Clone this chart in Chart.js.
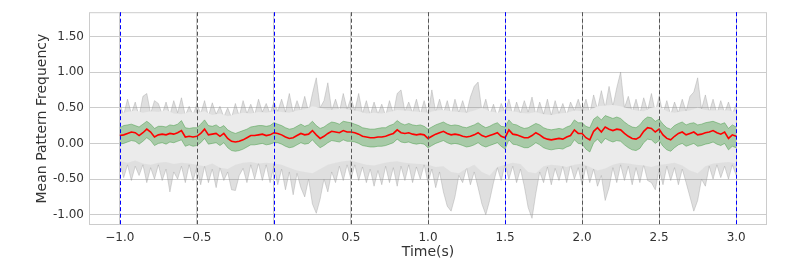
<!DOCTYPE html>
<html>
<head>
<meta charset="utf-8">
<script src="https://cdn.jsdelivr.net/npm/chart.js@4"></script>
<style>
  html, body { margin: 0; padding: 0; background: #fff; }
  #wrap { width: 787px; height: 271px; }
</style>
</head>
<body>
<div id="wrap"><canvas id="patternChart" width="787" height="271"></canvas></div>
<script>
// sampling grids (s)
const tStart = -1.0;
const tStep = 0.025;
const innerStep = 0.05;

// mean pattern frequency (red)
const meanFreq = [
  0.11,0.12,0.14,0.16,0.15,0.11,0.15,0.20,0.16,0.09,
  0.12,0.13,0.12,0.14,0.13,0.15,0.18,0.09,0.10,0.09,
  0.10,0.14,0.20,0.12,0.13,0.14,0.10,0.14,0.07,0.03,
  0.02,0.03,0.05,0.08,0.11,0.11,0.12,0.13,0.11,0.12,
  0.15,0.14,0.12,0.09,0.07,0.08,0.11,0.14,0.12,0.13,
  0.18,0.12,0.07,0.10,0.14,0.17,0.16,0.15,0.18,0.16,
  0.16,0.15,0.13,0.10,0.09,0.08,0.08,0.09,0.09,0.10,
  0.12,0.14,0.19,0.15,0.14,0.15,0.13,0.12,0.13,0.12,
  0.07,0.10,0.13,0.15,0.17,0.14,0.12,0.13,0.12,0.10,
  0.09,0.10,0.12,0.15,0.11,0.09,0.11,0.13,0.15,0.10,
  0.08,0.19,0.13,0.12,0.10,0.08,0.08,0.11,0.15,0.12,
  0.08,0.06,0.05,0.06,0.07,0.06,0.09,0.11,0.19,0.14,
  0.14,0.08,0.05,0.17,0.22,0.16,0.23,0.20,0.18,0.20,
  0.19,0.14,0.10,0.07,0.06,0.09,0.17,0.22,0.21,0.16,
  0.20,0.12,0.07,0.05,0.10,0.14,0.16,0.12,0.14,0.16,
  0.12,0.13,0.15,0.16,0.18,0.15,0.13,0.16,0.07,0.12,0.10
];

// green band (s.e.m.)
const semUpper = [
  0.22,0.25,0.26,0.27,0.25,0.23,0.27,0.31,0.27,0.21,
  0.24,0.24,0.23,0.26,0.25,0.27,0.32,0.22,0.21,0.22,
  0.22,0.27,0.33,0.25,0.24,0.26,0.22,0.25,0.19,0.16,
  0.14,0.16,0.18,0.20,0.23,0.24,0.25,0.25,0.24,0.25,
  0.29,0.27,0.25,0.22,0.20,0.21,0.24,0.27,0.24,0.26,
  0.31,0.25,0.21,0.23,0.27,0.30,0.29,0.27,0.31,0.30,
  0.29,0.27,0.25,0.22,0.21,0.20,0.20,0.21,0.22,0.22,
  0.25,0.27,0.32,0.28,0.26,0.28,0.26,0.25,0.26,0.24,
  0.20,0.23,0.26,0.28,0.30,0.27,0.25,0.26,0.25,0.23,
  0.22,0.24,0.26,0.29,0.25,0.22,0.24,0.27,0.29,0.24,
  0.23,0.33,0.27,0.26,0.23,0.21,0.22,0.25,0.28,0.26,
  0.22,0.20,0.19,0.20,0.21,0.20,0.23,0.25,0.33,0.29,
  0.29,0.24,0.22,0.34,0.38,0.33,0.39,0.37,0.35,0.37,
  0.35,0.30,0.26,0.23,0.22,0.26,0.33,0.37,0.36,0.31,
  0.34,0.27,0.22,0.20,0.25,0.28,0.30,0.26,0.28,0.29,
  0.26,0.27,0.29,0.30,0.31,0.29,0.27,0.29,0.21,0.26,0.23
];
const semLower = [
  -0.01,0.00,0.02,0.04,0.03,-0.01,0.03,0.08,0.04,-0.03,
  0.00,0.01,-0.01,0.02,0.01,0.03,0.05,-0.04,-0.02,-0.04,
  -0.03,0.01,0.07,-0.01,0.00,0.01,-0.03,0.01,-0.06,-0.10,
  -0.11,-0.10,-0.08,-0.05,-0.02,-0.02,-0.01,0.00,-0.02,-0.01,
  0.01,0.01,-0.01,-0.04,-0.06,-0.05,-0.02,0.01,-0.01,0.00,
  0.05,-0.01,-0.06,-0.03,0.01,0.04,0.03,0.02,0.05,0.03,
  0.03,0.02,0.00,-0.03,-0.04,-0.05,-0.05,-0.04,-0.04,-0.03,
  -0.01,0.01,0.06,0.02,0.01,0.02,0.00,-0.01,0.00,-0.01,
  -0.06,-0.03,0.00,0.02,0.04,0.01,-0.01,0.00,-0.01,-0.03,
  -0.05,-0.04,-0.02,0.01,-0.03,-0.05,-0.03,-0.01,0.01,-0.04,
  -0.08,0.05,-0.01,-0.02,-0.04,-0.06,-0.06,-0.03,0.01,-0.02,
  -0.06,-0.08,-0.09,-0.08,-0.07,-0.08,-0.05,-0.03,0.05,0.00,
  -0.01,-0.08,-0.12,0.01,0.06,0.00,0.07,0.04,0.02,0.04,
  0.03,-0.02,-0.06,-0.09,-0.10,-0.07,0.01,0.06,0.05,0.00,
  0.04,-0.04,-0.09,-0.11,-0.06,-0.02,0.00,-0.04,-0.02,0.00,
  -0.04,-0.03,-0.01,0.00,0.02,-0.01,-0.03,0.00,-0.09,-0.04,-0.06
];

// light inner gray zone (every 0.05 s)
const innerUpper = [
  0.42,0.44,0.46,0.43,0.45,0.44,0.47,0.42,0.41,0.44,
  0.43,0.45,0.40,0.42,0.38,0.41,0.43,0.42,0.44,0.43,
  0.45,0.44,0.43,0.46,0.48,0.52,0.50,0.47,0.48,0.49,
  0.47,0.45,0.42,0.43,0.42,0.44,0.47,0.46,0.45,0.44,
  0.43,0.46,0.47,0.45,0.44,0.43,0.46,0.50,0.45,0.43,
  0.46,0.45,0.43,0.42,0.44,0.41,0.40,0.42,0.43,0.46,
  0.45,0.47,0.52,0.53,0.54,0.52,0.49,0.46,0.45,0.50,
  0.52,0.45,0.43,0.45,0.46,0.50,0.47,0.46,0.47,0.46,
  0.44
];
const innerLower = [
  -0.25,-0.27,-0.24,-0.28,-0.30,-0.27,-0.26,-0.29,-0.27,-0.28,
  -0.30,-0.32,-0.28,-0.34,-0.36,-0.30,-0.27,-0.26,-0.28,-0.27,
  -0.28,-0.30,-0.34,-0.38,-0.40,-0.42,-0.36,-0.30,-0.27,-0.25,
  -0.24,-0.27,-0.30,-0.31,-0.28,-0.26,-0.25,-0.27,-0.28,-0.29,
  -0.30,-0.33,-0.32,-0.40,-0.42,-0.35,-0.30,-0.40,-0.45,-0.33,
  -0.30,-0.27,-0.29,-0.40,-0.42,-0.32,-0.30,-0.31,-0.33,-0.30,
  -0.28,-0.33,-0.38,-0.35,-0.30,-0.27,-0.28,-0.30,-0.31,-0.33,
  -0.30,-0.29,-0.27,-0.31,-0.38,-0.42,-0.32,-0.28,-0.27,-0.26,
  -0.28
];

// outer gray envelope (s.d.), jagged edges
const sdUpper = [
  0.55,0.40,0.62,0.42,0.58,0.38,0.66,0.70,0.42,0.60,
  0.56,0.41,0.58,0.40,0.60,0.43,0.64,0.39,0.52,0.40,
  0.55,0.42,0.60,0.38,0.57,0.41,0.52,0.37,0.50,0.36,
  0.56,0.38,0.60,0.42,0.55,0.40,0.62,0.44,0.56,0.42,
  0.58,0.45,0.62,0.44,0.70,0.43,0.60,0.45,0.66,0.44,
  0.70,0.92,0.50,0.60,0.85,0.46,0.62,0.44,0.70,0.48,
  0.64,0.46,0.70,0.42,0.60,0.40,0.58,0.41,0.55,0.39,
  0.60,0.42,0.70,0.75,0.45,0.58,0.43,0.62,0.41,0.60,
  0.40,0.75,0.44,0.62,0.42,0.60,0.40,0.62,0.43,0.60,
  0.42,0.65,0.80,0.86,0.45,0.62,0.40,0.55,0.38,0.56,
  0.44,0.62,0.40,0.58,0.42,0.60,0.44,0.65,0.40,0.58,
  0.41,0.62,0.39,0.60,0.42,0.56,0.40,0.58,0.46,0.62,
  0.45,0.62,0.42,0.68,0.48,0.74,0.50,0.80,0.52,0.78,
  1.00,0.50,0.66,0.44,0.62,0.42,0.64,0.46,0.70,0.44,
  0.66,0.42,0.60,0.40,0.58,0.43,0.62,0.45,0.66,0.72,
  0.92,0.48,0.68,0.44,0.62,0.42,0.60,0.43,0.58,0.41,0.55
];
const sdLower = [
  -0.28,-0.48,-0.30,-0.52,-0.32,-0.45,-0.30,-0.55,-0.34,-0.50,
  -0.30,-0.52,-0.36,-0.68,-0.40,-0.50,-0.32,-0.55,-0.30,-0.52,
  -0.34,-0.58,-0.32,-0.55,-0.36,-0.62,-0.34,-0.52,-0.40,-0.65,
  -0.66,-0.45,-0.35,-0.55,-0.30,-0.50,-0.28,-0.52,-0.30,-0.55,
  -0.32,-0.58,-0.36,-0.65,-0.40,-0.72,-0.42,-0.62,-0.75,-0.50,
  -0.85,-0.98,-0.78,-0.50,-0.68,-0.40,-0.55,-0.32,-0.52,-0.30,
  -0.50,-0.30,-0.52,-0.33,-0.55,-0.36,-0.60,-0.38,-0.58,-0.32,
  -0.55,-0.34,-0.60,-0.32,-0.52,-0.30,-0.55,-0.33,-0.50,-0.30,
  -0.55,-0.36,-0.62,-0.40,-0.68,-0.88,-0.95,-0.75,-0.45,-0.55,
  -0.34,-0.58,-0.40,-0.62,-0.85,-1.00,-0.80,-0.55,-0.34,-0.52,
  -0.30,-0.50,-0.32,-0.55,-0.36,-0.60,-0.90,-1.05,-0.70,-0.40,
  -0.55,-0.33,-0.58,-0.35,-0.52,-0.32,-0.55,-0.30,-0.50,-0.34,
  -0.58,-0.32,-0.55,-0.36,-0.60,-0.45,-0.80,-0.62,-0.34,-0.55,
  -0.30,-0.52,-0.32,-0.58,-0.34,-0.55,-0.30,-0.52,-0.55,-0.65,
  -0.36,-0.58,-0.32,-0.52,-0.34,-0.58,-0.36,-0.55,-0.75,-0.95,
  -0.80,-0.50,-0.60,-0.32,-0.50,-0.30,-0.48,-0.32,-0.50,-0.30,-0.45
];

// event markers and ticks
const blueEvents = [-1.0, 0.0, 1.5, 3.0];
const grayEvents = [-0.5, 0.5, 1.0, 2.0, 2.5];
const xTicks = [-1.0, -0.5, 0.0, 0.5, 1.0, 1.5, 2.0, 2.5, 3.0];
const yTicks = [-1.0, -0.5, 0.0, 0.5, 1.0, 1.5];

const pts = (arr, step) => arr.map((v, i) => ({ x: tStart + i * step, y: v }));

// dashed event lines + plot frame
const eventLines = {
  id: 'eventLines',
  beforeDatasetsDraw(chart) {
    const { ctx, chartArea: a } = chart;
    ctx.save();
    ctx.strokeStyle = '#cccccc';
    ctx.lineWidth = 1;
    ctx.strokeRect(a.left + 0.5, a.top + 0.5, a.right - a.left - 1, a.bottom - a.top - 1);
    ctx.restore();
  },
  afterDatasetsDraw(chart) {
    const { ctx, chartArea: a, scales: { x } } = chart;
    ctx.save();
    ctx.lineWidth = 1;
    ctx.setLineDash([4, 2.5]);
    const draw = (list, color) => {
      ctx.strokeStyle = color;
      list.forEach(v => {
        const px = Math.round(x.getPixelForValue(v)) + 0.5;
        ctx.beginPath();
        ctx.moveTo(px, a.top);
        ctx.lineTo(px, a.bottom);
        ctx.stroke();
      });
    };
    draw(grayEvents, '#555555');
    draw(blueEvents, '#0000ff');
    ctx.restore();
  }
};

const ctx = document.getElementById('patternChart').getContext('2d');
new Chart(ctx, {
  type: 'line',
  data: {
    datasets: [
      { data: pts(meanFreq, tStep), borderColor: '#ff0000', borderWidth: 1.6, fill: false, order: 0 },
      { data: pts(semUpper, tStep), borderColor: 'rgba(60,150,60,0.45)', borderWidth: 1,
        backgroundColor: 'rgba(60,150,60,0.38)', fill: '+1', order: 1 },
      { data: pts(semLower, tStep), borderColor: 'rgba(60,150,60,0.45)', borderWidth: 1, fill: false, order: 1 },
      { data: pts(innerUpper, innerStep), borderColor: 'rgba(0,0,0,0)', borderWidth: 0,
        backgroundColor: '#ebebeb', fill: '+1', order: 2 },
      { data: pts(innerLower, innerStep), borderColor: 'rgba(0,0,0,0)', borderWidth: 0, fill: false, order: 2 },
      { data: pts(sdUpper, tStep), borderColor: 'rgba(150,150,150,0.35)', borderWidth: 1,
        backgroundColor: 'rgba(150,150,150,0.3)', fill: '+1', order: 3 },
      { data: pts(sdLower, tStep), borderColor: 'rgba(150,150,150,0.35)', borderWidth: 1, fill: false, order: 3 }
    ]
  },
  options: {
    responsive: false,
    animation: false,
    elements: { point: { radius: 0 }, line: { tension: 0 } },
    layout: { padding: { top: 5, right: 20, left: 0, bottom: 0 } },
    plugins: { legend: { display: false }, tooltip: { enabled: false } },
    scales: {
      x: {
        type: 'linear',
        min: -1.2,
        max: 3.2,
        afterBuildTicks: s => { s.ticks = xTicks.map(v => ({ value: v })); },
        afterFit: s => { s.height = 46; },
        grid: { color: '#cccccc', drawTicks: false },
        border: { display: false },
        ticks: {
          padding: 6,
          color: '#333333',
          font: { family: 'DejaVu Sans', size: 12 },
          callback: v => v.toFixed(1).replace('-', '\u2212')
        },
        title: {
          display: true,
          text: 'Time(s)',
          color: '#333333',
          font: { family: 'DejaVu Sans', size: 14 },
          padding: { top: 0, bottom: 10 }
        }
      },
      y: {
        min: -1.144,
        max: 1.84,
        afterBuildTicks: s => { s.ticks = yTicks.map(v => ({ value: v })); },
        afterFit: s => { s.width = 89; },
        grid: { color: '#cccccc', drawTicks: false },
        border: { display: false },
        ticks: {
          padding: 5,
          color: '#333333',
          font: { family: 'DejaVu Sans', size: 12 },
          callback: v => v.toFixed(2)
        },
        title: {
          display: true,
          text: 'Mean Pattern Frequency',
          color: '#333333',
          font: { family: 'DejaVu Sans', size: 14 },
          padding: { top: 34, bottom: 0 }
        }
      }
    }
  },
  plugins: [eventLines]
});
</script>
</body>
</html>
